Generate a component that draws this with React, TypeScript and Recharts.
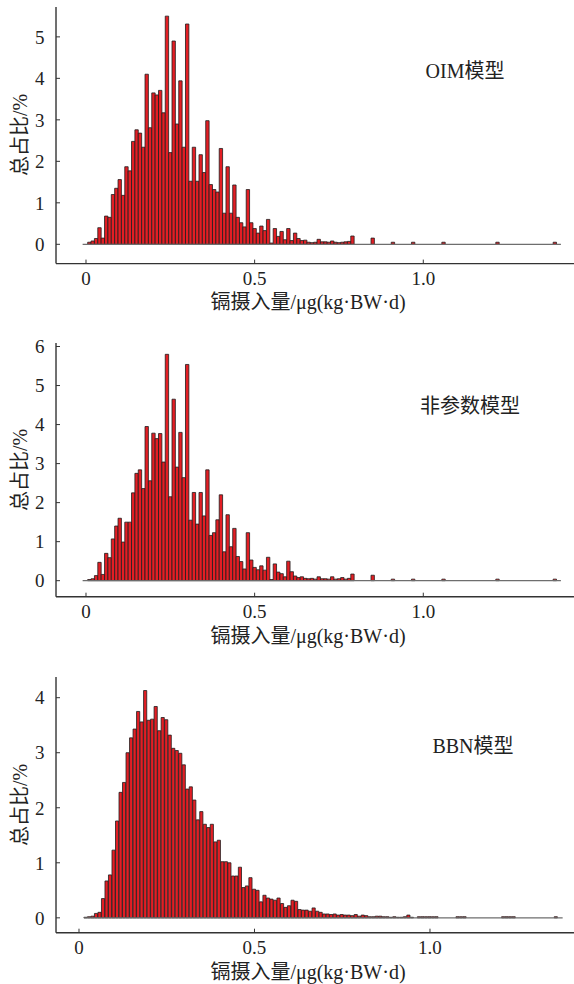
import { ComposedChart, Bar, XAxis, YAxis, ReferenceLine } from 'recharts';

const FONT = '"Liberation Serif", "Times New Roman", "Noto Sans CJK SC", serif';
const TEXT_COLOR = '#222';
const AXIS_COLOR = '#333';
const BAR_FILL = '#e31e24';
const BAR_STROKE = '#1e1e1e';

const X_TITLE = '镉摄入量/μg(kg·BW·d)';
const Y_TITLE = '总占比/%';
const X_TICKS = [0, 0.5, 1.0];

const BIN_WIDTH = 0.01;

// OIM model: bin index 0.. (contiguous), then a few isolated tail bins
const OIM_START = 0.01;
const OIM_VALUES = [
  0.05, 0.08, 0.14, 0.4, 0.15, 0.68, 0.65, 1.2, 1.35, 1.56,
  1.18, 1.87, 1.77, 2.48, 2.76, 2.68, 2.34, 4.1, 2.81, 3.65,
  3.6, 3.71, 3.17, 5.5, 2.21, 4.9, 2.9, 3.94, 2.34, 5.31,
  1.52, 2.34, 1.52, 2.16, 1.73, 2.98, 1.44, 1.32, 1.26, 2.31,
  0.75, 1.87, 0.75, 1.43, 0.65, 0.52, 0.42, 1.32, 0.52, 0.38,
  0.27, 0.44, 0.33, 0.6, 0.03, 0.38, 0.19, 0.31, 0.11, 0.38,
  0.09, 0.27, 0.14, 0.09, 0.1, 0.05, 0.04, 0.05, 0.12, 0.06,
  0.06, 0.05, 0.08, 0.05, 0.04, 0.05, 0.06, 0.07, 0.2, 0,
  0, 0, 0, 0, 0.15,
];
const OIM_TAIL_BINS = [90, 96, 105, 121, 138];
const OIM_TAIL_VALUES = [0.05, 0.05, 0.05, 0.05, 0.05];

// non-parametric model
const NP_START = 0.01;
const NP_VALUES = [
  0.03, 0.05, 0.13, 0.47, 0.16, 0.7, 0.59, 1.07, 1.4, 1.6,
  0.99, 1.5, 1.5, 2.25, 2.75, 2.84, 2.36, 3.95, 2.56, 3.78,
  3.64, 3.77, 3.04, 5.8, 2.15, 4.65, 2.91, 3.8, 2.64, 5.54,
  1.55, 2.26, 1.45, 2.26, 1.66, 2.84, 1.16, 1.23, 1.56, 2.2,
  0.74, 1.69, 0.87, 1.34, 0.62, 0.49, 0.3, 1.23, 0.53, 0.34,
  0.28, 0.38, 0.27, 0.6, 0.03, 0.43, 0.22, 0.18, 0.1, 0.5,
  0.23, 0.12, 0.08, 0.1, 0.06, 0.05, 0.06, 0.04, 0.1, 0.05,
  0.05, 0.04, 0.1, 0.04, 0.05, 0.08, 0.04, 0.06, 0.17, 0,
  0, 0, 0, 0, 0.14,
];
const NP_TAIL_BINS = [90, 96, 105, 121, 138];
const NP_TAIL_VALUES = [0.04, 0.04, 0.04, 0.04, 0.04];

// BBN model
const BBN_START = 0.019;
const BBN_VALUES = [
  0.01, 0.02, 0.03, 0.08, 0.1, 0.35, 0.67, 0.78, 1.23, 1.76,
  2.28, 2.46, 3.0, 3.27, 3.43, 3.75, 3.56, 4.13, 3.59, 3.61,
  3.84, 3.4, 3.64, 3.6, 3.32, 3.08, 3.04, 2.99, 2.78, 2.34,
  2.38, 2.14, 1.78, 1.93, 1.7, 1.64, 1.7, 1.38, 1.41, 1.02,
  1.02, 1.0, 0.76, 0.76, 0.92, 0.55, 0.58, 0.73, 0.52, 0.5,
  0.29, 0.41, 0.36, 0.34, 0.32, 0.36, 0.26, 0.19, 0.22, 0.32,
  0.3, 0.15, 0.14, 0.14, 0.12, 0.18, 0.12, 0.1, 0.07, 0.07,
  0.06, 0.07, 0.05, 0.06, 0.05, 0.05, 0.04, 0.06, 0.03, 0.05,
  0.04, 0.02, 0.02, 0.03, 0.03, 0.02, 0.02, 0.01, 0.02, 0.01,
  0.01, 0.02, 0.05, 0.01,
];
const BBN_TAIL_BINS = [95, 96, 97, 98, 99, 100, 106, 107, 108, 119, 120, 121, 122, 134];
const BBN_TAIL_VALUES = [0.02, 0.02, 0.02, 0.02, 0.02, 0.02, 0.02, 0.02, 0.02, 0.02, 0.02, 0.02, 0.02, 0.02];

interface Row {
  x: number;
  v: number;
}

function buildRows(start: number, values: number[], tailBins: number[], tailValues: number[]): Row[] {
  const rows: Row[] = [];
  values.forEach((v, i) => {
    if (v > 0) rows.push({ x: +(start + i * BIN_WIDTH).toFixed(4), v });
  });
  tailBins.forEach((b, i) => {
    rows.push({ x: +(start + b * BIN_WIDTH).toFixed(4), v: tailValues[i] });
  });
  return rows;
}

interface PanelProps {
  name: string;
  rows: Row[];
  plotTop: number;
  plotBottom: number;
  xDomain: [number, number];
  yDomain: [number, number];
  yTicks: number[];
  barSize: number;
  baseline: [number, number];
  namePos: [number, number];
}

const MARGIN_TOP = 10;
const MARGIN_BOTTOM = 5;
const X_AXIS_H = 30;
const Y_AXIS_W = 56;

function HistPanel({ name, rows, plotTop, plotBottom, xDomain, yDomain, yTicks, barSize, baseline, namePos }: PanelProps) {
  const height = plotBottom - plotTop + MARGIN_TOP + MARGIN_BOTTOM + X_AXIS_H;
  const mid = (plotTop + plotBottom) / 2;
  const tickStyle = { fill: TEXT_COLOR, fontSize: 19, fontFamily: FONT };
  return (
    <>
      <div style={{ position: 'absolute', left: 0, top: plotTop - MARGIN_TOP }}>
        <ComposedChart
          width={574}
          height={height}
          data={rows}
          margin={{ top: MARGIN_TOP, right: 0, bottom: MARGIN_BOTTOM, left: 0 }}
        >
          <XAxis
            type="number"
            dataKey="x"
            domain={xDomain}
            allowDataOverflow
            ticks={X_TICKS}
            tickFormatter={(v: number) => (v === 0 ? '0' : v.toFixed(1))}
            height={X_AXIS_H}
            tickSize={-4}
            tickMargin={12}
            tick={tickStyle}
            tickLine={{ stroke: AXIS_COLOR }}
            axisLine={{ stroke: AXIS_COLOR, strokeWidth: 1.4 }}
          />
          <YAxis
            type="number"
            domain={yDomain}
            allowDataOverflow
            ticks={yTicks}
            width={Y_AXIS_W}
            tickSize={-4}
            tickMargin={15.5}
            tick={tickStyle}
            tickLine={{ stroke: AXIS_COLOR }}
            axisLine={{ stroke: AXIS_COLOR, strokeWidth: 1.4 }}
          />
          <ReferenceLine
            segment={[{ x: baseline[0], y: 0 }, { x: baseline[1], y: 0 }]}
            stroke="#6e6e6e"
            strokeWidth={1.2}
          />
          <Bar
            dataKey="v"
            barSize={barSize}
            fill={BAR_FILL}
            stroke={BAR_STROKE}
            strokeWidth={0.8}
            isAnimationActive={false}
          />
        </ComposedChart>
      </div>
      <div
        style={{
          position: 'absolute',
          left: 20,
          top: mid,
          transform: 'translate(-50%, -50%) rotate(-90deg)',
          whiteSpace: 'nowrap',
          fontSize: 20,
          lineHeight: '20px',
          color: TEXT_COLOR,
        }}
      >
        {Y_TITLE}
      </div>
      <div
        style={{
          position: 'absolute',
          left: 308,
          top: plotBottom + 39,
          transform: 'translate(-50%, -50%)',
          whiteSpace: 'nowrap',
          fontSize: 20,
          lineHeight: '20px',
          color: TEXT_COLOR,
        }}
      >
        {X_TITLE}
      </div>
      <div
        style={{
          position: 'absolute',
          left: namePos[0],
          top: namePos[1],
          transform: 'translate(-50%, -50%)',
          whiteSpace: 'nowrap',
          fontSize: 20,
          lineHeight: '20px',
          color: TEXT_COLOR,
        }}
      >
        {name}
      </div>
    </>
  );
}

export default function App() {
  return (
    <div
      style={{
        position: 'absolute',
        left: 0,
        top: 0,
        width: 574,
        height: 984,
        background: '#fff',
        fontFamily: FONT,
        overflow: 'hidden',
      }}
    >
      <HistPanel
        name="OIM模型"
        rows={buildRows(OIM_START, OIM_VALUES, OIM_TAIL_BINS, OIM_TAIL_VALUES)}
        plotTop={6.7}
        plotBottom={263.3}
        xDomain={[-0.0889, 1.4468]}
        yDomain={[-0.465, 5.72]}
        yTicks={[0, 1, 2, 3, 4, 5]}
        barSize={3.37}
        baseline={[-0.01, 1.408]}
        namePos={[465, 71]}
      />
      <HistPanel
        name="非参数模型"
        rows={buildRows(NP_START, NP_VALUES, NP_TAIL_BINS, NP_TAIL_VALUES)}
        plotTop={343}
        plotBottom={596.7}
        xDomain={[-0.0889, 1.4468]}
        yDomain={[-0.41, 6.09]}
        yTicks={[0, 1, 2, 3, 4, 5, 6]}
        barSize={3.37}
        baseline={[-0.01, 1.408]}
        namePos={[470, 406]}
      />
      <HistPanel
        name="BBN模型"
        rows={buildRows(BBN_START, BBN_VALUES, BBN_TAIL_BINS, BBN_TAIL_VALUES)}
        plotTop={677}
        plotBottom={932.7}
        xDomain={[-0.0655, 1.4103]}
        yDomain={[-0.27, 4.376]}
        yTicks={[0, 1, 2, 3, 4]}
        barSize={3.51}
        baseline={[0.014, 1.378]}
        namePos={[473, 746]}
      />
    </div>
  );
}
